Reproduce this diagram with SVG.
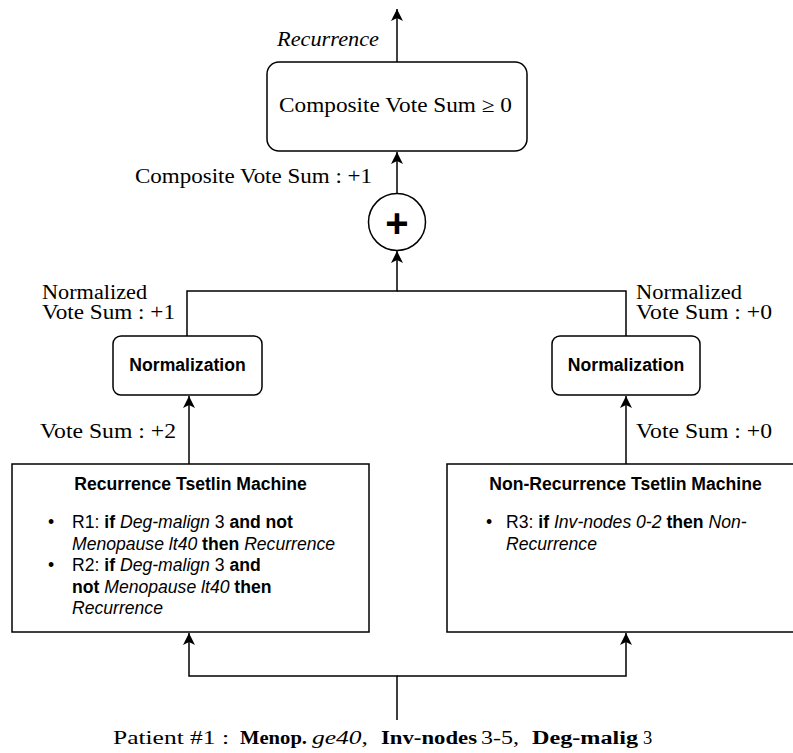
<svg xmlns="http://www.w3.org/2000/svg" width="793" height="753" viewBox="0 0 793 753">
<style>
.box{fill:#fff;stroke:#000;stroke-width:1.5}
.ln{fill:none;stroke:#000;stroke-width:1.5}
.serif{font-family:"Liberation Serif","Times New Roman",serif;font-size:20.5px;fill:#000}
.ps{font-family:"Liberation Serif","Times New Roman",serif;font-size:18.5px;fill:#000}
.sans{font-family:"Liberation Sans",Arial,Helvetica,sans-serif;font-size:17.6px;fill:#000}
.b{font-weight:bold}
.i{font-style:italic}
.ttl{font-family:"Liberation Sans",Arial,Helvetica,sans-serif;font-size:17.6px;font-weight:bold;text-anchor:middle}
</style>
<defs>
<marker id="arr" markerUnits="userSpaceOnUse" markerWidth="13" markerHeight="13" viewBox="0 0 13 13" refX="12.5" refY="6.5" orient="auto">
<path d="M0.5,0.5 L12.5,6.5 L0.5,12.5 L3.5,6.5 z" fill="#000"/>
</marker>
</defs>
<g id="connectors">
<path class="ln" d="M397,720 V676 H189 V633" marker-end="url(#arr)"/>
<path class="ln" d="M397,676 H626 V633" marker-end="url(#arr)"/>
<path class="ln" d="M189,464 V396" marker-end="url(#arr)"/>
<path class="ln" d="M626,464 V396" marker-end="url(#arr)"/>
<path class="ln" d="M187,336 V291 H397 V251" marker-end="url(#arr)"/>
<path class="ln" d="M626,336 V291 H397"/>
<path class="ln" d="M397,194 V152" marker-end="url(#arr)"/>
<path class="ln" d="M397,62 V9" marker-end="url(#arr)"/>
</g>
<g id="output-label">
<text class="serif i" x="277" y="46" textLength="102" lengthAdjust="spacingAndGlyphs">Recurrence</text>
</g>
<g id="decision">
<rect class="box" x="267" y="62" width="260" height="89" rx="12"/>
<text class="serif" x="279" y="112" textLength="233" lengthAdjust="spacingAndGlyphs">Composite Vote Sum ≥ 0</text>
</g>
<g id="composite-label">
<text class="serif" x="135" y="183" textLength="237" lengthAdjust="spacingAndGlyphs">Composite Vote Sum : +1</text>
</g>
<g id="sum">
<circle class="box" cx="397" cy="222" r="28.5"/>
<text x="397" y="237" text-anchor="middle" font-family="Liberation Sans,Arial,sans-serif" font-size="40" font-weight="bold">+</text>
</g>
<g id="norm-left-label">
<text class="serif" x="42" y="299" textLength="105" lengthAdjust="spacingAndGlyphs">Normalized</text>
<text class="serif" x="42" y="319" textLength="133" lengthAdjust="spacingAndGlyphs">Vote Sum : +1</text>
</g>
<g id="norm-right-label">
<text class="serif" x="636" y="299" textLength="106" lengthAdjust="spacingAndGlyphs">Normalized</text>
<text class="serif" x="636" y="319" textLength="136" lengthAdjust="spacingAndGlyphs">Vote Sum : +0</text>
</g>
<g id="norm-left">
<rect class="box" x="113" y="336" width="149" height="59" rx="8"/>
<text class="ttl" x="187.5" y="371">Normalization</text>
</g>
<g id="norm-right">
<rect class="box" x="552" y="336" width="148" height="59" rx="8"/>
<text class="ttl" x="626" y="371">Normalization</text>
</g>
<g id="vote-left-label">
<text class="serif" x="40" y="438" textLength="136" lengthAdjust="spacingAndGlyphs">Vote Sum : +2</text>
</g>
<g id="vote-right-label">
<text class="serif" x="636" y="438" textLength="136" lengthAdjust="spacingAndGlyphs">Vote Sum : +0</text>
</g>
<g id="tm-recurrence">
<rect class="box" x="12" y="464" width="357" height="168"/>
<text class="ttl" x="190.5" y="490">Recurrence Tsetlin Machine</text>
<text class="sans" x="48" y="528">•</text>
<text class="sans" x="72" y="528">R1: <tspan class="b">if</tspan> <tspan class="i">Deg-malign</tspan> 3 <tspan class="b">and not</tspan></text>
<text class="sans" x="72" y="550"><tspan class="i">Menopause lt40</tspan> <tspan class="b">then</tspan> <tspan class="i">Recurrence</tspan></text>
<text class="sans" x="48" y="571">•</text>
<text class="sans" x="72" y="571">R2: <tspan class="b">if</tspan> <tspan class="i">Deg-malign</tspan> 3 <tspan class="b">and</tspan></text>
<text class="sans" x="72" y="593"><tspan class="b">not</tspan> <tspan class="i">Menopause lt40</tspan> <tspan class="b">then</tspan></text>
<text class="sans i" x="72" y="614">Recurrence</text>
</g>
<g id="tm-nonrecurrence">
<rect class="box" x="447" y="464" width="357" height="168"/>
<text class="ttl" x="625.5" y="490">Non-Recurrence Tsetlin Machine</text>
<text class="sans" x="486" y="528">•</text>
<text class="sans" x="506" y="528">R3: <tspan class="b">if</tspan> <tspan class="i">Inv-nodes 0-2</tspan> <tspan class="b">then</tspan> <tspan class="i">Non-</tspan></text>
<text class="sans i" x="506" y="550">Recurrence</text>
</g>
<g id="patient">
<text class="ps" x="113" y="744" textLength="116" lengthAdjust="spacingAndGlyphs">Patient #1 :</text>
<text class="ps b" x="240" y="744" textLength="67" lengthAdjust="spacingAndGlyphs">Menop.</text>
<text class="ps" x="312" y="744" textLength="56" lengthAdjust="spacingAndGlyphs"><tspan class="i">ge40</tspan>,</text>
<text class="ps b" x="381" y="744" textLength="96" lengthAdjust="spacingAndGlyphs">Inv-nodes</text>
<text class="ps" x="481" y="744" textLength="38" lengthAdjust="spacingAndGlyphs">3-5,</text>
<text class="ps b" x="532" y="744" textLength="106" lengthAdjust="spacingAndGlyphs">Deg-malig</text>
<text class="ps" x="643" y="744">3</text>
</g>
</svg>
